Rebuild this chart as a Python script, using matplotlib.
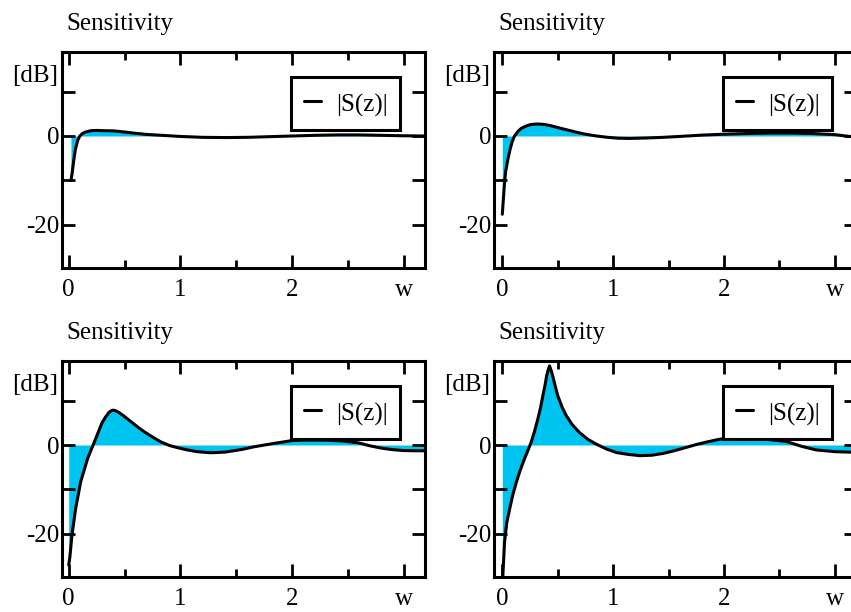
#!/usr/bin/python3

from matplotlib import pyplot as plt
import numpy as np
import matplotlib

font = {'family' : 'Liberation Serif',
        'size'   : 18}
matplotlib.rc('font', **font)
matplotlib.rcParams['axes.unicode_minus'] = False

fill_col = '#00C4F0'

# |S(z)| in dB
w1 = [0.02, 0.03, 0.04, 0.05, 0.06, 0.08, 0.10, 0.12, 0.15, 0.20, 0.25, 0.30, 0.40,
      0.50, 0.60, 0.70, 0.80, 0.90, 1.00, 1.20, 1.40, 1.60, 1.80, 2.00, 2.20, 2.40,
      2.60, 2.80, 3.00, 3.20]
s1 = [-10.0, -8.5, -6.5, -4.6, -3.0, -1.0, 0.0, 0.5, 0.9, 1.2, 1.25, 1.2, 1.15,
      0.9, 0.6, 0.35, 0.2, 0.05, -0.1, -0.3, -0.35, -0.3, -0.15, 0.0, 0.15, 0.25,
      0.25, 0.15, 0.05, 0.0]

w2 = [0.00, 0.01, 0.02, 0.03, 0.05, 0.07, 0.09, 0.11, 0.14, 0.17, 0.21, 0.26, 0.32,
      0.38, 0.44, 0.50, 0.58, 0.66, 0.75, 0.85, 0.95, 1.05, 1.15, 1.30, 1.45, 1.60,
      1.80, 2.00, 2.20, 2.40, 2.60, 2.80, 3.00, 3.10, 3.20]
s2 = [-17.6, -14.0, -10.5, -8.0, -5.3, -3.0, -1.2, 0.0, 1.0, 1.7, 2.2, 2.6, 2.7,
      2.6, 2.3, 1.9, 1.4, 0.9, 0.4, 0.0, -0.3, -0.5, -0.55, -0.45, -0.3, -0.1,
      0.2, 0.4, 0.55, 0.65, 0.65, 0.55, 0.3, 0.0, -0.3]

w3 = [0.00, 0.01, 0.03, 0.063, 0.108, 0.17, 0.23, 0.30, 0.33, 0.36, 0.38, 0.40,
      0.42, 0.45, 0.49, 0.53, 0.57, 0.62, 0.675, 0.75, 0.825, 0.90, 0.975, 1.06,
      1.15, 1.27, 1.40, 1.55, 1.66, 1.80, 1.90, 2.00, 2.10, 2.30, 2.45, 2.59, 2.70,
      2.80, 2.90, 3.00, 3.10, 3.20]
s3 = [-27.0, -25.3, -20.1, -14.2, -8.2, -3.0, 0.7, 5.1, 6.3, 7.3, 7.7, 7.85,
      7.7, 7.3, 6.6, 5.8, 5.0, 4.0, 3.0, 1.8, 0.7, -0.1, -0.6, -1.1,
      -1.5, -1.75, -1.6, -1.0, -0.4, 0.2, 0.6, 1.0, 1.1, 1.1, 0.9, 0.5, -0.2,
      -0.7, -1.05, -1.25, -1.3, -1.3]

w4 = [0.00, 0.005, 0.02, 0.04, 0.066, 0.095, 0.126, 0.16, 0.20, 0.23, 0.26, 0.29,
      0.32, 0.345, 0.366, 0.385, 0.40, 0.415, 0.426, 0.44, 0.456, 0.48, 0.50, 0.54,
      0.577, 0.63, 0.696, 0.77, 0.847, 0.94, 1.03, 1.13, 1.24, 1.35, 1.45, 1.55,
      1.65, 1.75, 1.85, 1.96, 2.10, 2.30, 2.45, 2.56, 2.70, 2.83, 3.00, 3.13, 3.20]
s4 = [-31.0, -29.4, -21.9, -17.5, -14.4, -11.2, -8.4, -5.8, -3.1, -1.3, 0.6, 3.0,
      5.8, 8.4, 11.1, 13.4, 15.6, 17.0, 17.8, 16.8, 15.4, 13.0, 11.1, 8.5,
      6.6, 4.6, 2.8, 1.3, 0.2, -0.9, -1.7, -2.1, -2.4, -2.3, -1.9, -1.3,
      -0.6, 0.1, 0.7, 1.3, 1.6, 1.5, 1.1, 0.8, -0.3, -1.1, -1.5, -1.6, -1.6]

xticks = [0, 1, 2, 3]
xticklabels = ['0', '1', '2', 'w']
yticks = [10, 0, -10, -20]
yticklabels = ['', '0', '', '-20']

fig = plt.figure(figsize=(8.51, 6.12), dpi=100)

W, H = 851., 612.
panels = [(w1, s1, 62, 268, (-0.06, 3.19)),
          (w2, s2, 494, 268, (-0.075, 3.2)),
          (w3, s3, 62, 577, (-0.06, 3.19)),
          (w4, s4, 494, 577, (-0.075, 3.2))]

for w, s, left, bottom, xl in panels:
    ax = fig.add_axes([left/W, 1 - bottom/H, 363/W, 216/H])
    w = np.array(w)
    s = np.array(s)
    ax.fill_between(w, s, 0, color=fill_col, lw=0, interpolate=True)
    ax.plot(w, s, color='k', lw=2.2, label='|S(z)|', solid_capstyle='round')
    ax.set_xlim(*xl)
    ax.set_ylim(-29.7, 18.9)
    ax.set_xticks(xticks)
    ax.set_xticklabels(xticklabels)
    ax.set_xticks([0.5, 1.5, 2.5], minor=True)
    ax.set_yticks(yticks)
    ax.set_yticklabels(yticklabels)
    ax.tick_params(which='both', direction='in', top=True, right=True, width=2)
    ax.tick_params(which='major', length=9.5)
    ax.tick_params(which='minor', length=5.5)
    ax.tick_params(axis='x', pad=8)
    ax.tick_params(axis='y', pad=2)
    for sp in ax.spines.values():
        sp.set_linewidth(2.2)
    leg = ax.legend(loc='upper right', bbox_to_anchor=(0.932, 0.884),
                    borderaxespad=0, fancybox=False, framealpha=1,
                    edgecolor='k', handlelength=0.7, handletextpad=0.6,
                    handleheight=1.35, borderpad=0.5)
    leg.get_frame().set_linewidth(2.2)
    leg.set_zorder(5)
    ax.text(-0.012, 0.889, '[dB]', transform=ax.transAxes, ha='right', va='center')
    fig.text((left + 4)/W, 1 - (bottom - 238)/H, 'Sensitivity', ha='left', va='baseline')

plt.savefig('out.png', dpi=100)
